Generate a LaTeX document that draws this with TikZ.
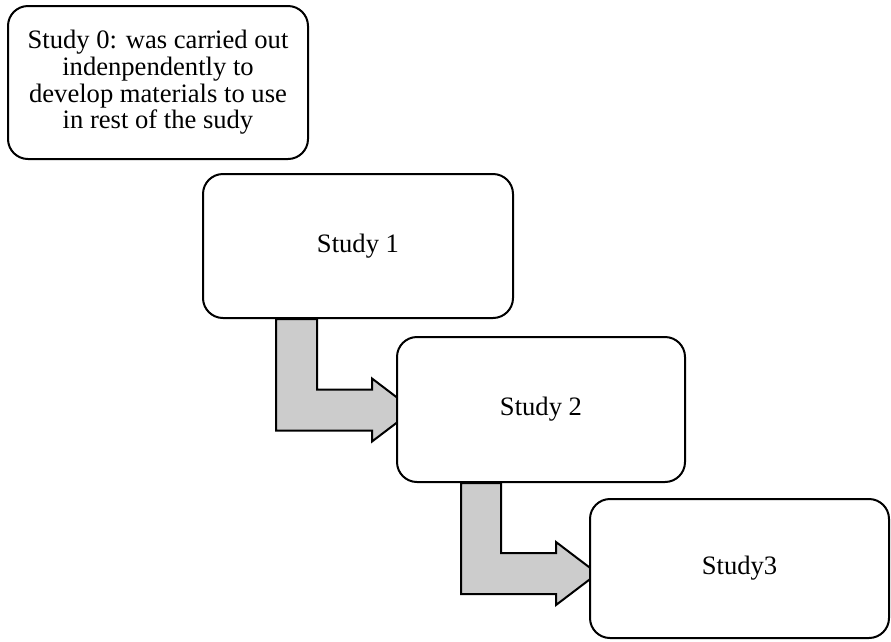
\documentclass[tikz,border=0pt]{standalone}
\usepackage{fontspec}
\setmainfont{Liberation Serif}
\usetikzlibrary{calc,backgrounds}
\definecolor{arrowgray}{RGB}{204,204,204}
\tikzset{
  stagebox/.style={draw, fill=white, line width=2pt, rounded corners=20pt,
    inner sep=0pt, align=center,
    font=\fontsize{26.6}{26.7}\selectfont},
  bentarrow/.style={draw, fill=arrowgray, line width=2pt, line join=miter}
}
\begin{document}
\begin{tikzpicture}[x=1pt, y=-1pt]
  \useasboundingbox (0,0) rectangle (891,641);

  % the four study boxes
  \node[stagebox, minimum width=300pt, minimum height=153pt] (s0) at (158,82.5)
    {Study 0: was carried out\\indenpendently to\\develop materials to use\\in rest of the sudy};
  \node[stagebox, minimum width=310pt, minimum height=144pt] (s1) at (358,246) {Study 1};
  \node[stagebox, minimum width=288pt, minimum height=145pt] (s2) at (541,409.5) {Study 2};
  \node[stagebox, minimum width=299pt, minimum height=139pt] (s3) at (739.5,568.5) {Study3};

  % bend points of the two L-shaped arrows
  \coordinate (a1) at ($(s1.south west)+(74,0)$);
  \coordinate (c1) at ($(s2.west)+(-24,0.5)$);
  \coordinate (a2) at ($(s2.south west)+(65,0)$);
  \coordinate (c2) at ($(s3.west)+(-33,5)$);

  \begin{scope}[on background layer]
    \path[bentarrow] (a1) -- ++(41,0) |- ($(c1)+(0,-20.5)$) -- ++(0,-11)
      -- ($(c1)+(41.5,0)$) -- ($(c1)+(0,31.5)$) -- ++(0,-11) -| (a1) -- cycle;
    \path[bentarrow] (a2) -- ++(40,0) |- ($(c2)+(0,-20.5)$) -- ++(0,-11)
      -- ($(c2)+(41.5,0)$) -- ($(c2)+(0,31.5)$) -- ++(0,-11) -| (a2) -- cycle;
  \end{scope}
\end{tikzpicture}
\end{document}
